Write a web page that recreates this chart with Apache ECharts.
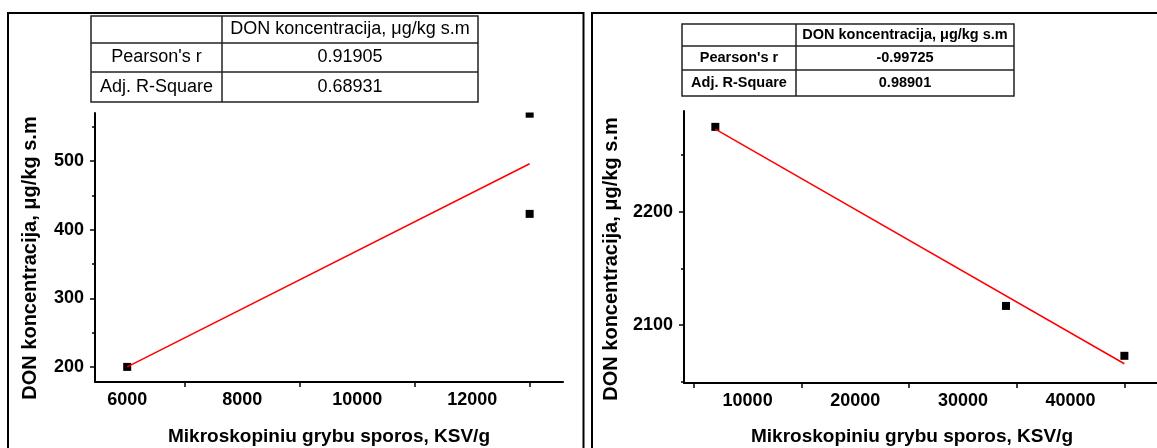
<!DOCTYPE html>
<html>
<head>
<meta charset="utf-8">
<script src="https://cdn.jsdelivr.net/npm/echarts@6/dist/echarts.min.js"></script>
<style>
html,body{margin:0;padding:0;background:#fff;}
#c{width:1157px;height:448px;}
</style>
</head>
<body>
<div id="c"></div>
<script>
// ---- data ----
const leftX = [6000, 13000, 13000];
const leftY = [200, 423, 569];
const leftFitX = [6000, 13000];
const leftFitY = [200, 496];
const rightX = [7000, 34000, 45000];
const rightY = [2275, 2117, 2073];
const rightFitX = [7000, 45000];
const rightFitY = [2273, 2066];

const leftXTicks = [6000, 8000, 10000, 12000];
const leftXMinor = [7000, 9000, 11000, 13000];
const leftYTicks = [200, 300, 400, 500];
const leftYMinor = [250, 350, 450, 550];
const rightXTicks = [10000, 20000, 30000, 40000];
const rightXMinor = [5000, 15000, 25000, 35000, 45000];
const rightYTicks = [2100, 2200];
const rightYMinor = [2050, 2150, 2250];

const xTitle = 'Mikroskopiniu grybu sporos, KSV/g';
const yTitle = 'DON koncentracija, μg/kg s.m';
const tableHeader = 'DON koncentracija, μg/kg s.m';
const tableRowLabels = ["Pearson's r", 'Adj. R-Square'];
const leftStats = ['0.91905', '0.68931'];
const rightStats = ['-0.99725', '0.98901'];

const FONT = '"Liberation Sans", Arial, sans-serif';

function pairs(xs, ys){ return xs.map((x,i)=>[x, ys[i]]); }
const plain = v => String(v);

function xAxisMain(grid, min, max, labels, minor){
  return {
    type:'value', gridIndex:grid, min:min, max:max, position:'bottom',
    splitLine:{show:false},
    axisLine:{show:true, onZero:false, lineStyle:{color:'#000', width:2}},
    axisTick:{show:true, customValues:minor, length:5, inside:false, lineStyle:{color:'#000', width:1.5}},
    axisLabel:{show:true, customValues:labels, formatter:plain, margin:9, color:'#000', fontFamily:FONT, fontWeight:'bold', fontSize:18}
  };
}
function yAxisMain(grid, min, max, labels){
  return {
    type:'value', gridIndex:grid, min:min, max:max, position:'left',
    splitLine:{show:false},
    axisLine:{show:true, onZero:false, lineStyle:{color:'#000', width:2}},
    axisTick:{show:true, customValues:labels, length:5, lineStyle:{color:'#000', width:1.5}},
    axisLabel:{show:true, customValues:labels, formatter:plain, margin:11, color:'#000', fontFamily:FONT, fontWeight:'bold', fontSize:18}
  };
}
function yAxisMinor(grid, min, max, minor){
  return {
    type:'value', gridIndex:grid, min:min, max:max, position:'left',
    splitLine:{show:false},
    axisLine:{show:false, onZero:false},
    axisTick:{show:true, customValues:minor, length:3, lineStyle:{color:'#000', width:1.5}},
    axisLabel:{show:false}
  };
}

function tableGraphics(x0, xc, x1, rows, header, vals, fs, bold){
  const g = [];
  const ls = {stroke:'#222', lineWidth:1.5};
  g.push({type:'rect', shape:{x:x0, y:rows[0], width:x1-x0, height:rows[3]-rows[0]}, style:{fill:'#fff', stroke:'#222', lineWidth:1.5}, z:10});
  g.push({type:'line', shape:{x1:xc, y1:rows[0], x2:xc, y2:rows[3]}, style:ls, z:11});
  g.push({type:'line', shape:{x1:x0, y1:rows[1], x2:x1, y2:rows[1]}, style:ls, z:11});
  g.push({type:'line', shape:{x1:x0, y1:rows[2], x2:x1, y2:rows[2]}, style:ls, z:11});
  const tstyle = (t, x, y) => ({type:'text', x:x, y:y, z:12, style:{text:t, x:0, y:0, fill:'#000', font:(bold?'bold ':'')+fs+'px '+FONT, textAlign:'center', textVerticalAlign:'middle'}});
  const c0 = (x0+xc)/2, c1 = (xc+x1)/2;
  g.push(tstyle(header, c1, (rows[0]+rows[1])/2));
  for (let i=0;i<2;i++){
    g.push(tstyle(tableRowLabels[i], c0, (rows[i+1]+rows[i+2])/2));
    g.push(tstyle(vals[i], c1, (rows[i+1]+rows[i+2])/2));
  }
  return g;
}

const graphics = [
  // panel frames
  {type:'rect', shape:{x:8, y:13, width:575.5, height:460}, style:{fill:'none', stroke:'#000', lineWidth:2}, z:5},
  {type:'rect', shape:{x:592, y:13, width:600, height:460}, style:{fill:'none', stroke:'#000', lineWidth:2}, z:5},
  // mask clipping the marker above the left plot top
  {type:'rect', shape:{x:505, y:104, width:55, height:8.5}, style:{fill:'#fff'}, z:20},
  // axis titles
  {type:'text', x:30, y:258, rotation:Math.PI/2, z:12, style:{text:yTitle, x:0, y:0, fill:'#000', font:'bold 20px '+FONT, textAlign:'center', textVerticalAlign:'middle'}},
  {type:'text', x:611, y:259, rotation:Math.PI/2, z:12, style:{text:yTitle, x:0, y:0, fill:'#000', font:'bold 20px '+FONT, textAlign:'center', textVerticalAlign:'middle'}},
  {type:'text', x:329, y:437, z:12, style:{text:xTitle, x:0, y:0, fill:'#000', font:'bold 19px '+FONT, textAlign:'center', textVerticalAlign:'middle'}},
  {type:'text', x:912, y:437, z:12, style:{text:xTitle, x:0, y:0, fill:'#000', font:'bold 19px '+FONT, textAlign:'center', textVerticalAlign:'middle'}}
].concat(
  tableGraphics(91, 222, 478, [16, 43, 72, 102], tableHeader, leftStats, 18, false),
  tableGraphics(682, 796, 1014, [24, 46, 70, 96], tableHeader, rightStats, 14.5, true)
);

const chart = echarts.init(document.getElementById('c'), null, {renderer:'canvas'});
chart.setOption({
  animation:false,
  backgroundColor:'#fff',
  grid:[
    {left:95, top:113, width:468, height:269},
    {left:684, top:111, width:476, height:272}
  ],
  xAxis:[
    xAxisMain(0, 5440, 13580, leftXTicks, leftXMinor),
    xAxisMain(1, 4090, 48030, rightXTicks, rightXMinor)
  ],
  yAxis:[
    yAxisMain(0, 178, 570, leftYTicks),
    yAxisMain(1, 2049, 2289, rightYTicks),
    yAxisMinor(0, 178, 570, leftYMinor),
    yAxisMinor(1, 2049, 2289, rightYMinor)
  ],
  graphic:graphics,
  series:[
    {type:'line', xAxisIndex:0, yAxisIndex:0, data:pairs(leftFitX, leftFitY), showSymbol:false, symbol:'none', lineStyle:{color:'#ff0000', width:1.5}, z:3},
    {type:'scatter', xAxisIndex:0, yAxisIndex:0, data:pairs(leftX, leftY), symbol:'rect', symbolSize:8, itemStyle:{color:'#000', opacity:1}, z:2, clip:false},
    {type:'line', xAxisIndex:1, yAxisIndex:1, data:pairs(rightFitX, rightFitY), showSymbol:false, symbol:'none', lineStyle:{color:'#ff0000', width:1.5}, z:3},
    {type:'scatter', xAxisIndex:1, yAxisIndex:1, data:pairs(rightX, rightY), symbol:'rect', symbolSize:8, itemStyle:{color:'#000', opacity:1}, z:2}
  ]
});
</script>
</body>
</html>
